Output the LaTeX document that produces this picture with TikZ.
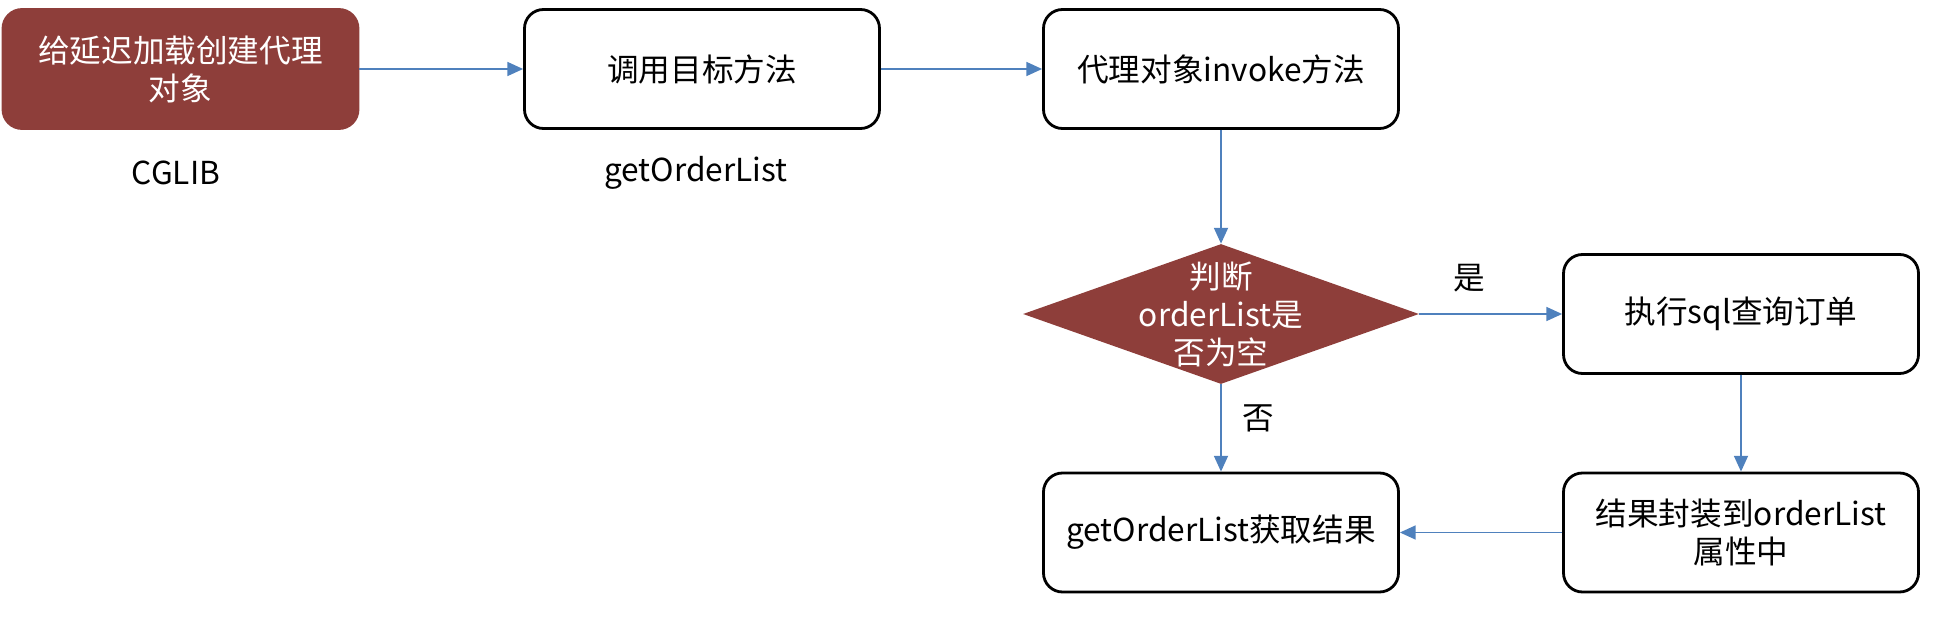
\documentclass[tikz,border=0pt]{standalone}
\usepackage{fontspec}
\setmainfont{Noto Sans CJK SC}
\usetikzlibrary{shapes,arrows.meta}
\definecolor{brick}{RGB}{142,62,58}
\definecolor{flow}{RGB}{79,129,189}

\begin{document}
\begin{tikzpicture}[inner sep=0.4mm,
  every node/.style={font=\fontsize{18}{21.6}\selectfont},
  box/.style={draw=black,line width=1.6pt,rounded corners=0.38cm,minimum width=7.1cm,minimum height=2.38cm,align=center,fill=white},
  redbox/.style={box,draw=brick,fill=brick,text=white},
  judge/.style={diamond,fill=brick,minimum width=7.92cm,minimum height=2.8cm,inner sep=0pt},
  link/.style={draw=flow,line width=0.9pt,-{Triangle[width=8pt,length=9pt]}}]
\useasboundingbox (0,0) rectangle (38.84,12.4);
\node[redbox] (lazy) at (3.61,11.02) {给延迟加载创建代理\\对象};
\node[box] (call) at (14.04,11.02) {调用目标方法};
\node[box] (invoke) at (24.42,11.02) {代理对象invoke方法};
\node[judge] (empty) at (24.42,6.12) {};
\node[align=center,text=white] (emptytext) at (empty) {判断\\orderList是\\否为空};
\node[box] (sql) at (34.82,6.12) {执行sql查询订单};
\node[box] (result) at (24.42,1.75) {getOrderList获取结果};
\node[box] (wrap) at (34.82,1.75) {结果封装到orderList\\属性中};
\node (cglib) at (3.52,8.94) {CGLIB};
\node (getlist) at (13.92,8.94) {getOrderList};
\node (yes) at (29.38,6.84) {是};
\node (no) at (25.16,4.04) {否};
\draw[link] (lazy) -- (call);
\draw[link] (call) -- (invoke);
\draw[link] (invoke) -- (empty);
\draw[link] (empty) -- (sql);
\draw[link] (empty) -- (result);
\draw[link] (sql) -- (wrap);
\draw[link] (wrap) -- (result);
\end{tikzpicture}
\end{document}
